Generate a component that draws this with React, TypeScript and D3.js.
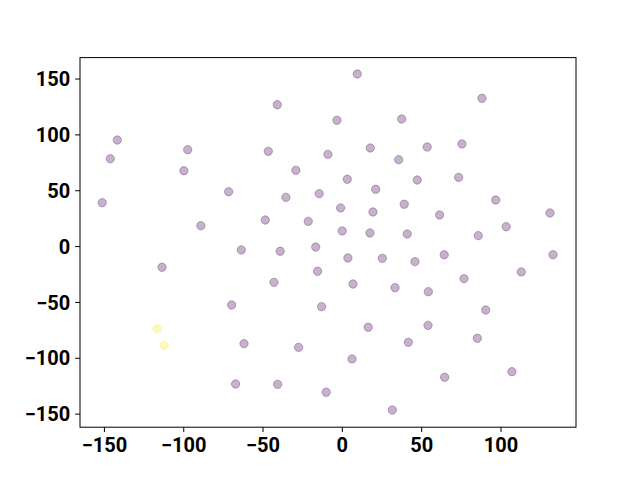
import React from "react";
import * as d3 from "d3";

const xValues: number[] = [
  9.4, -41.0, 88.0, -141.9, -146.3, -97.5, -99.9, -46.7, -3.4, 37.4,
  17.6, -9.1, -29.3, 53.5, 75.4, 35.5, 47.2, -71.7, 3.1, 21.0,
  -151.4, -35.6, -14.6, 73.3, 96.7, 19.3, 39.0, 61.3, -1.1, -89.2,
  -48.6, -21.5, 130.9, 103.3, -0.1, 17.4, 40.9, 85.7, -63.7, -39.2,
  -16.8, 3.5, 25.2, 45.8, 64.2, 132.8, -113.7, -15.6, -43.1, 6.7,
  33.2, 54.2, 76.7, 112.8, -69.8, -13.1, 90.4, 16.3, 54.0, -62.0,
  -27.6, 41.6, 85.1, 6.1, -67.3, -40.8, -10.2, 64.5, 106.9, 31.5,
  -116.7, -112.3,
];
const yValues: number[] = [
  154.5, 127.0, 132.8, 95.4, 78.7, 86.7, 67.9, 85.3, 113.1, 114.2,
  88.3, 82.6, 68.3, 89.2, 91.9, 77.8, 59.6, 49.1, 60.3, 51.3,
  39.3, 44.1, 47.4, 62.0, 41.7, 31.0, 37.9, 28.3, 34.6, 18.7,
  23.8, 22.6, 30.1, 17.8, 14.0, 12.2, 11.3, 9.8, -3.0, -4.2,
  -0.4, -10.2, -10.5, -13.5, -7.3, -7.3, -18.5, -22.1, -32.0, -33.5,
  -36.8, -40.4, -28.7, -22.7, -52.3, -53.8, -56.8, -72.2, -70.5, -86.9,
  -90.2, -85.7, -82.1, -100.6, -123.0, -123.3, -130.4, -117.0, -112.0, -146.3,
  -73.8, -88.4,
];
const classValues: number[] = [
  0, 0, 0, 0, 0, 0, 0, 0, 0, 0,
  0, 0, 0, 0, 0, 0, 0, 0, 0, 0,
  0, 0, 0, 0, 0, 0, 0, 0, 0, 0,
  0, 0, 0, 0, 0, 0, 0, 0, 0, 0,
  0, 0, 0, 0, 0, 0, 0, 0, 0, 0,
  0, 0, 0, 0, 0, 0, 0, 0, 0, 0,
  0, 0, 0, 0, 0, 0, 0, 0, 0, 0,
  1, 1,
];
const xTicks: number[] = [-150, -100, -50, 0, 50, 100];
const yTicks: number[] = [-150, -100, -50, 0, 50, 100, 150];

const W = 640;
const H = 480;
const left = 80;
const right = 576;
const top = 57.6;
const bottom = 427.2;

export default function App() {
  const x = d3.scaleLinear().domain([-165.4, 147.3]).range([left, right]);
  const y = d3.scaleLinear().domain([-161.7, 169.2]).range([bottom, top]);
  const color = (v: number) => d3.interpolateViridis(v);
  const fmt = (v: number) => (v < 0 ? "\u2212" + Math.abs(v) : String(v));
  const tickLen = 4.86;
  const pad = 4.86;
  const fontSize = 20;
  return (
    <svg width={W} height={H} style={{ position: "absolute", left: 0, top: 0 }}>
      <rect x={0} y={0} width={W} height={H} fill="#fff" />
      {xValues.map((xv, i) => {
        const c = color(classValues[i]);
        return (
          <circle
            key={i}
            cx={x(xv)}
            cy={y(yValues[i])}
            r={4.17}
            fill={c}
            fillOpacity={0.3}
            stroke={c}
            strokeOpacity={0.3}
            strokeWidth={1}
          />
        );
      })}
      <rect
        x={left}
        y={top}
        width={right - left}
        height={bottom - top}
        fill="none"
        stroke="#000"
        strokeWidth={1}
      />
      {xTicks.map((t) => (
        <g key={"x" + t}>
          <line x1={x(t)} x2={x(t)} y1={bottom} y2={bottom + tickLen} stroke="#000" strokeWidth={1} />
          <text
            x={x(t)}
            y={bottom + tickLen + pad}
            dy="0.76em"
            textAnchor="middle"
            fontFamily="Roboto"
            fontWeight="bold"
            fontSize={fontSize}
          >
            {fmt(t)}
          </text>
        </g>
      ))}
      {yTicks.map((t) => (
        <g key={"y" + t}>
          <line x1={left - tickLen} x2={left} y1={y(t)} y2={y(t)} stroke="#000" strokeWidth={1} />
          <text
            x={left - tickLen - pad}
            y={y(t)}
            dy="0.36em"
            textAnchor="end"
            fontFamily="Roboto"
            fontWeight="bold"
            fontSize={fontSize}
          >
            {fmt(t)}
          </text>
        </g>
      ))}
    </svg>
  );
}
